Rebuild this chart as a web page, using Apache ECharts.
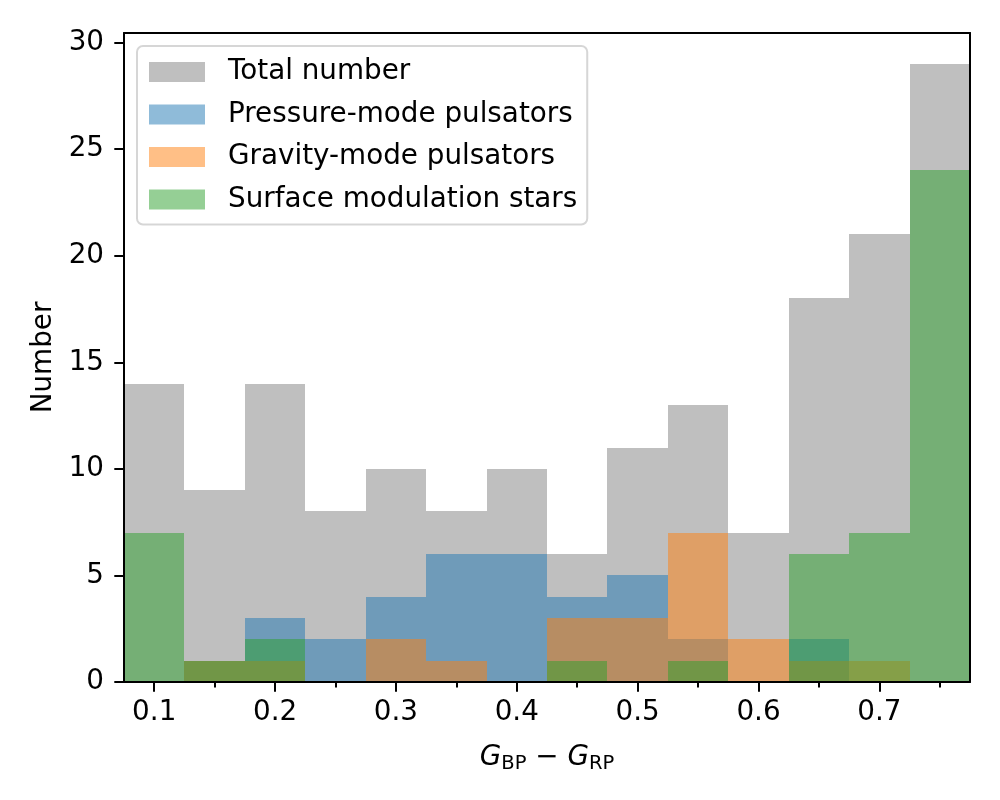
<!DOCTYPE html>
<html>
<head>
<meta charset="utf-8">
<script src="https://cdn.jsdelivr.net/npm/echarts@6/dist/echarts.min.js"></script>
<style>
  html, body { margin: 0; padding: 0; background: #fff; }
  #chart { width: 1000px; height: 800px; }
</style>
</head>
<body>
<div id="chart"></div>
<script>
// histogram bins (edges) and counts per bin
const binEdges = [0.075, 0.125, 0.175, 0.225, 0.275, 0.325, 0.375, 0.425, 0.475, 0.525, 0.575, 0.625, 0.675, 0.725, 0.775];
const totalCounts = [14, 9, 14, 8, 10, 8, 10, 6, 11, 13, 7, 18, 21, 29];
const pressureCounts = [0, 1, 3, 2, 4, 6, 6, 4, 5, 2, 0, 2, 0, 0];
const gravityCounts = [0, 1, 1, 0, 2, 1, 0, 3, 3, 7, 2, 1, 1, 0];
const surfaceCounts = [7, 1, 2, 0, 0, 0, 0, 1, 0, 1, 0, 6, 7, 24];

const xTicks = [0.1, 0.2, 0.3, 0.4, 0.5, 0.6, 0.7];
const xMinorTicks = [0.15, 0.25, 0.35, 0.45, 0.55, 0.65, 0.75];
const yTicks = [0, 5, 10, 15, 20, 25, 30];

const FONT = 'DejaVu Sans';
const FS = 27.8;

function histData(counts) {
  const out = [];
  counts.forEach((c, i) => {
    if (c > 0) out.push([binEdges[i], binEdges[i + 1], c]);
  });
  return out;
}

// snap bar edges to whole pixels so neighbouring bins don't show seams
function renderItem(params, api) {
  const p0 = api.coord([api.value(0), api.value(2)]);
  const p1 = api.coord([api.value(1), 0]);
  const x0 = Math.round(p0[0]), x1 = Math.round(p1[0]);
  const y0 = Math.round(p0[1]), y1 = Math.round(p1[1]);
  return {
    type: 'rect',
    shape: { x: x0, y: y0, width: x1 - x0, height: y1 - y0 },
    style: { fill: api.visual('color') }
  };
}

function histSeries(name, counts, color) {
  return {
    name: name,
    type: 'custom',
    renderItem: renderItem,
    itemStyle: { color: color },
    encode: { x: [0, 1], y: 2 },
    data: histData(counts),
    silent: true
  };
}

const myChart = echarts.init(document.getElementById('chart'));
const xMin = binEdges[0], xMax = binEdges[binEdges.length - 1];
const yMax = 30.45;

myChart.setOption({
  animation: false,
  textStyle: { fontFamily: FONT },
  grid: { left: 124, right: 30, top: 33, bottom: 118 },
  legend: {
    orient: 'vertical',
    left: 137,
    top: 46,
    selectedMode: false,
    icon: 'rect',
    itemWidth: 56,
    itemHeight: 20,
    itemGap: 14.5,
    padding: [12, 10, 11, 12],
    backgroundColor: 'rgba(255,255,255,0.8)',
    borderColor: 'rgba(204,204,204,0.8)',
    borderWidth: 2,
    borderRadius: 6,
    textStyle: { fontFamily: FONT, fontSize: FS, color: '#000', lineHeight: 28, padding: [0, 0, 0, 18] },
    data: ['Total number', 'Pressure-mode pulsators', 'Gravity-mode pulsators', 'Surface modulation stars']
  },
  xAxis: [
    {
      type: 'value', min: xMin, max: xMax, z: 10,
      name: '{i|G}{s|BP}{m| − }{i|G}{s|RP}',
      nameLocation: 'middle', nameGap: 60,
      nameTextStyle: {
        rich: {
          i: { fontFamily: FONT, fontSize: FS, fontStyle: 'italic', color: '#000' },
          s: { fontFamily: FONT, fontSize: 19.5, color: '#000', padding: [12, 0, 0, 0] },
          m: { fontFamily: FONT, fontSize: FS, color: '#000' }
        }
      },
      splitLine: { show: false },
      axisLine: { lineStyle: { color: '#000', width: 2 } },
      axisTick: { customValues: xTicks, length: 9.7, lineStyle: { color: '#000', width: 2 } },
      axisLabel: {
        customValues: xTicks, margin: 17, color: '#000', fontSize: FS, fontFamily: FONT,
        formatter: v => v.toFixed(1)
      }
    },
    {
      type: 'value', min: xMin, max: xMax, position: 'bottom', z: 10,
      splitLine: { show: false },
      axisLine: { show: false },
      axisTick: { customValues: xMinorTicks, length: 5.6, lineStyle: { color: '#000', width: 2 } },
      axisLabel: { show: false }
    },
    {
      type: 'value', min: xMin, max: xMax, position: 'top', z: 10,
      splitLine: { show: false },
      axisLine: { lineStyle: { color: '#000', width: 2 } },
      axisTick: { show: false },
      axisLabel: { show: false }
    }
  ],
  yAxis: [
    {
      type: 'value', min: 0, max: yMax, z: 10,
      name: 'Number', nameLocation: 'middle', nameGap: 62,
      nameTextStyle: { fontFamily: FONT, fontSize: FS, color: '#000' },
      splitLine: { show: false },
      axisLine: { show: true, lineStyle: { color: '#000', width: 2 } },
      axisTick: { show: true, customValues: yTicks, length: 9.7, lineStyle: { color: '#000', width: 2 } },
      axisLabel: { customValues: yTicks, margin: 20, color: '#000', fontSize: FS, fontFamily: FONT }
    },
    {
      type: 'value', min: 0, max: yMax, position: 'right', z: 10,
      splitLine: { show: false },
      axisLine: { show: true, lineStyle: { color: '#000', width: 2 } },
      axisTick: { show: false },
      axisLabel: { show: false }
    }
  ],
  series: [
    histSeries('Total number', totalCounts, 'rgba(128,128,128,0.5)'),
    histSeries('Pressure-mode pulsators', pressureCounts, 'rgba(31,119,180,0.5)'),
    histSeries('Gravity-mode pulsators', gravityCounts, 'rgba(255,127,14,0.5)'),
    histSeries('Surface modulation stars', surfaceCounts, 'rgba(44,160,44,0.5)')
  ]
});
</script>
</body>
</html>
